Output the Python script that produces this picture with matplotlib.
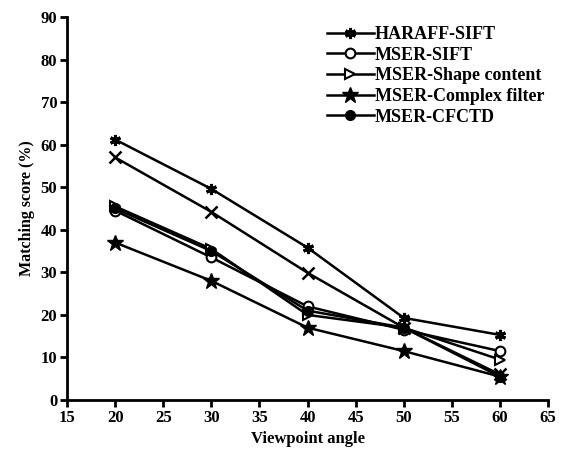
import matplotlib.pyplot as plt

plt.rcParams.update({
    "font.family": ["Liberation Serif", "DejaVu Serif"],
    "font.weight": "bold",
    "font.size": 12,
})

angles = [20, 30, 40, 50, 60]

haraff_sift = [61.2, 49.6, 35.8, 19.3, 15.3]
unlabeled_x = [57.0, 44.2, 29.9, 17.0, 6.0]
mser_sift = [44.5, 33.5, 22.0, 16.5, 11.5]
mser_shape = [45.5, 35.5, 20.0, 17.0, 9.5]
mser_complex = [37.0, 28.0, 17.0, 11.5, 5.5]
mser_cfctd = [45.0, 35.0, 21.0, 17.0, 5.5]

fig = plt.figure(figsize=(5.65, 4.58), dpi=100)
ax = fig.add_axes([0.1186, 0.1266, 0.8514, 0.8364])

lw = 1.8
ax.plot(angles, haraff_sift, color="black", lw=lw, marker=(6, 2, 0), ms=8, mew=2.2,
        label="HARAFF-SIFT")
ax.plot(angles, unlabeled_x, color="black", lw=lw, marker="x", ms=8, mew=1.8)
ax.plot(angles, mser_sift, color="black", lw=lw, marker="o", ms=7, mfc="white", mew=1.5,
        label="MSER-SIFT")
ax.plot(angles, mser_shape, color="black", lw=lw, marker=">", ms=7.5, mfc="white", mew=1.5,
        label="MSER-Shape content")
ax.plot(angles, mser_complex, color="black", lw=lw, marker="*", ms=12,
        label="MSER-Complex filter")
ax.plot(angles, mser_cfctd, color="black", lw=lw, marker="o", ms=7,
        label="MSER-CFCTD")

ax.set_xlim(15, 65)
ax.set_ylim(0, 90)
ax.set_xticks(range(15, 66, 5))
ax.set_yticks(range(0, 91, 10))

for s in ["top", "right"]:
    ax.spines[s].set_visible(False)
for s in ["left", "bottom"]:
    ax.spines[s].set_linewidth(2)
ax.tick_params(direction="out", length=5, width=2, labelsize=12, pad=2)

ax.set_xlabel("Viewpoint angle", fontsize=12, fontweight="bold", labelpad=4)
ax.set_ylabel("Matching score (%)", fontsize=11.5, fontweight="bold", labelpad=4)

ax.legend(loc="upper left", bbox_to_anchor=(0.525, 0.995), frameon=False,
          fontsize=13, handlelength=2.6, handletextpad=0.05,
          labelspacing=0.2, borderaxespad=0)

fig.savefig("out.png", dpi=100)
